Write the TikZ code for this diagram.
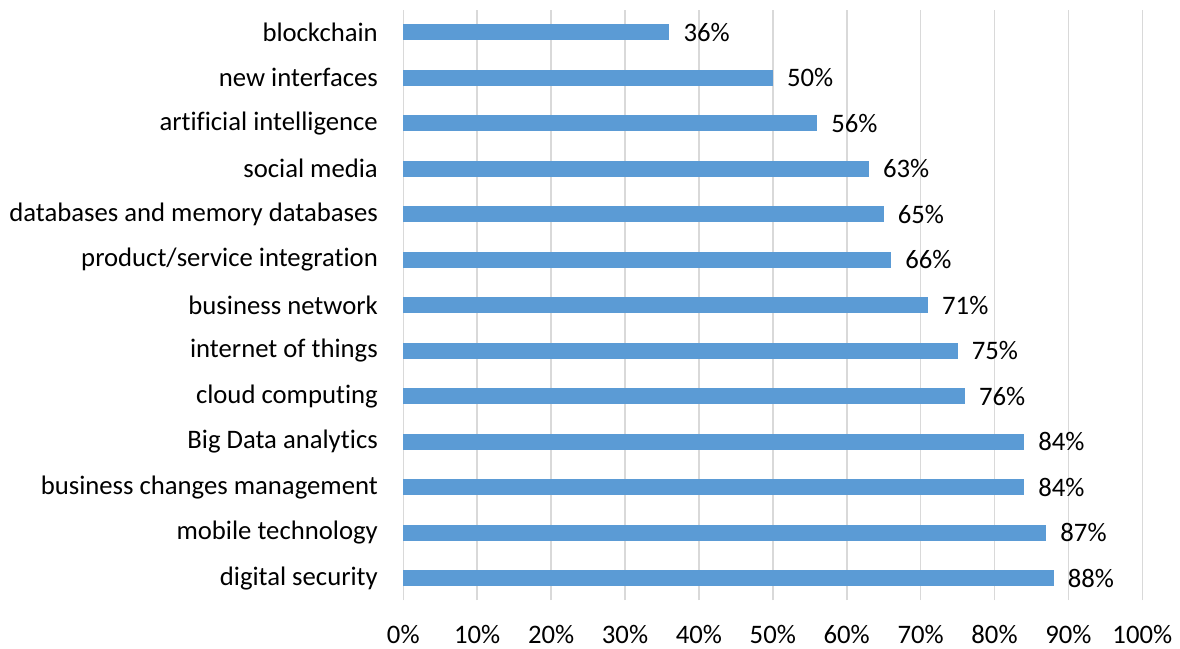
\documentclass[tikz,border=0pt]{standalone}
\usepackage{fontspec}
\setmainfont{Carlito}[Ligatures=NoCommon]
\definecolor{barblue}{HTML}{5B9BD5}
\definecolor{gridgray}{HTML}{D9D9D9}
\begin{document}
\begin{tikzpicture}[x=1pt,y=1pt,
  grid/.style={draw=gridgray,line width=1.6pt},
  bar/.style={fill=barblue},
  cat/.style={anchor=east,inner sep=0pt,font=\fontsize{26.7}{26.7}\selectfont},
  val/.style={anchor=west,inner sep=0pt,font=\fontsize{26.7}{26.7}\selectfont},
  tick/.style={anchor=base,inner sep=0pt,font=\fontsize{26.7}{26.7}\selectfont}]
\useasboundingbox (0,0) rectangle (1180,648);
% gridlines and tick labels
\foreach \i/\t in {0/0,1/10,2/20,3/30,4/40,5/50,6/60,7/70,8/80,9/90,10/100}{
  \pgfmathsetmacro{\gx}{403.3+73.9*\i}
  \draw[grid] (\gx,48) -- (\gx,638);
  \node[tick] (t\i) at (\gx,5) {\t\%};
}
% bars
\foreach \n/\lab/\v [count=\k from 0] in {
  a/blockchain/36, b/new interfaces/50, c/artificial intelligence/56,
  d/social media/63, e/databases and memory databases/65,
  f/product\slash service integration/66, g/business network/71,
  h/internet of things/75, i/cloud computing/76, j/Big Data analytics/84,
  k/business changes management/84, l/mobile technology/87, m/digital security/88}{
  \pgfmathsetmacro{\yy}{648-32.3-45.48*\k}
  \pgfmathsetmacro{\xe}{403.3+7.39*\v}
  \fill[bar] (403.3,\yy-8) rectangle (\xe,\yy+8);
  \node[cat] (c\n) at (378,\yy) {\lab};
  \node[val] (v\n) at (\xe+14,\yy) {\v\%};
}
\end{tikzpicture}
\end{document}
